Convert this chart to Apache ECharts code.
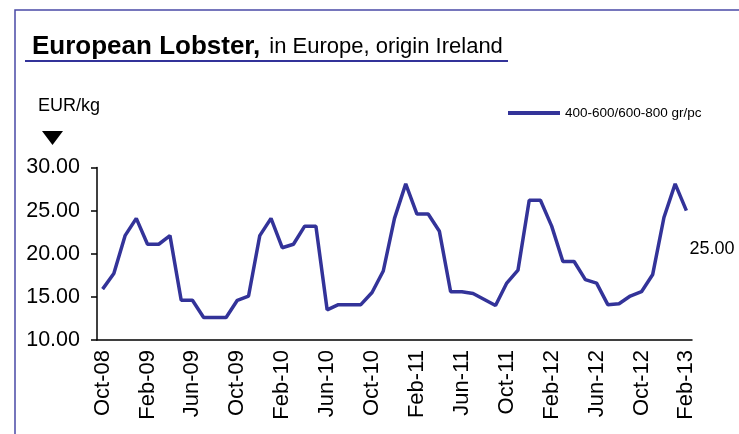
<!DOCTYPE html>
<html>
<head>
<meta charset="utf-8">
<script src="https://cdn.jsdelivr.net/npm/echarts@6/dist/echarts.min.js"></script>
<style>
  html, body { margin: 0; padding: 0; background: #fff; }
  #chart { width: 739px; height: 434px; }
</style>
</head>
<body>
<div id="chart"></div>
<script>
// monthly categories, Oct-08 .. Feb-13
var months = [
  'Oct-08','Nov-08','Dec-08',
  'Jan-09','Feb-09','Mar-09','Apr-09','May-09','Jun-09','Jul-09','Aug-09','Sep-09','Oct-09','Nov-09','Dec-09',
  'Jan-10','Feb-10','Mar-10','Apr-10','May-10','Jun-10','Jul-10','Aug-10','Sep-10','Oct-10','Nov-10','Dec-10',
  'Jan-11','Feb-11','Mar-11','Apr-11','May-11','Jun-11','Jul-11','Aug-11','Sep-11','Oct-11','Nov-11','Dec-11',
  'Jan-12','Feb-12','Mar-12','Apr-12','May-12','Jun-12','Jul-12','Aug-12','Sep-12','Oct-12','Nov-12','Dec-12',
  'Jan-13','Feb-13'
];

// EUR/kg, 400-600/600-800 gr/pc
var lobster = [
  15.9, 17.7, 22.1,
  24.1, 21.1, 21.1, 22.1, 14.6, 14.6, 12.6, 12.6, 12.6, 14.6, 15.1, 22.1,
  24.1, 20.7, 21.1, 23.2, 23.2, 13.5, 14.1, 14.1, 14.1, 15.5, 18.0, 24.1,
  28.1, 24.6, 24.6, 22.6, 15.6, 15.6, 15.4, 14.7, 14.0, 16.6, 18.1, 26.2,
  26.2, 23.2, 19.1, 19.1, 17.0, 16.6, 14.1, 14.2, 15.1, 15.6, 17.6, 24.2,
  28.1, 25.0
];

var seriesName = '400-600/600-800 gr/pc';
var yMin = 10, yMax = 30, yStep = 5;

var blue = '#333399';
var font = '"Liberation Sans", Arial, sans-serif';

var myChart = echarts.init(document.getElementById('chart'));

var option = {
  animation: false,
  title: {
    text: '{b|European Lobster,}{n|in Europe, origin Ireland}',
    left: 27,
    top: 29,
    textStyle: {
      rich: {
        b: { fontFamily: font, fontSize: 26, fontWeight: 'bold', color: '#000' },
        n: { fontFamily: font, fontSize: 22, fontWeight: 'normal', color: '#000', padding: [0, 0, 0, 9] }
      }
    }
  },
  legend: {
    data: [seriesName],
    left: 508,
    top: 106,
    padding: 0,
    icon: 'rect',
    itemWidth: 52,
    itemHeight: 4,
    itemGap: 5,
    textStyle: { fontFamily: font, fontSize: 13.5, color: '#000' }
  },
  grid: { left: 97, right: 47, top: 167.5, bottom: 94 },
  xAxis: {
    type: 'category',
    data: months,
    boundaryGap: true,
    axisLine: { lineStyle: { color: '#000', width: 1.5 } },
    axisTick: { interval: 3, length: 5, lineStyle: { color: '#000', width: 1.5 } },
    axisLabel: {
      interval: 3,
      rotate: 90,
      margin: 10,
      fontFamily: font,
      fontSize: 22,
      color: '#000'
    },
    splitLine: { show: false }
  },
  yAxis: {
    type: 'value',
    min: yMin,
    max: yMax,
    interval: yStep,
    axisLine: { show: true, lineStyle: { color: '#000', width: 1.5 } },
    axisTick: { show: true, length: 6, lineStyle: { color: '#000', width: 1.5 } },
    axisLabel: {
      margin: 17,
      fontFamily: font,
      fontSize: 21.5,
      color: '#000',
      formatter: function (v) { return v.toFixed(2); }
    },
    splitLine: { show: false }
  },
  series: [{
    name: seriesName,
    type: 'line',
    data: lobster,
    symbol: 'none',
    color: blue,
    lineStyle: { color: blue, width: 3.5 },
    endLabel: {
      show: true,
      distance: 3,
      offset: [0, 38],
      fontFamily: font,
      fontSize: 18,
      color: '#000',
      formatter: function (p) { return p.value.toFixed(2); }
    }
  }],
  graphic: [
    {
      type: 'rect',
      shape: { x: 15, y: 10, width: 800, height: 500 },
      style: { fill: 'none', stroke: '#4a4aa6', lineWidth: 1.5 },
      silent: true
    },
    {
      type: 'line',
      shape: { x1: 25, y1: 61, x2: 508, y2: 61 },
      style: { stroke: blue, lineWidth: 2 },
      silent: true
    },
    {
      type: 'text',
      left: 38,
      top: 97,
      style: { text: 'EUR/kg', font: '18px ' + font, fill: '#000' }
    },
    {
      type: 'polygon',
      shape: { points: [[42, 131], [63, 131], [52.5, 145]] },
      style: { fill: '#000' },
      silent: true
    }
  ]
};

myChart.setOption(option);

window.addEventListener('resize', function () {
  if (myChart) {
    myChart.resize();
  }
});
</script>
</body>
</html>
